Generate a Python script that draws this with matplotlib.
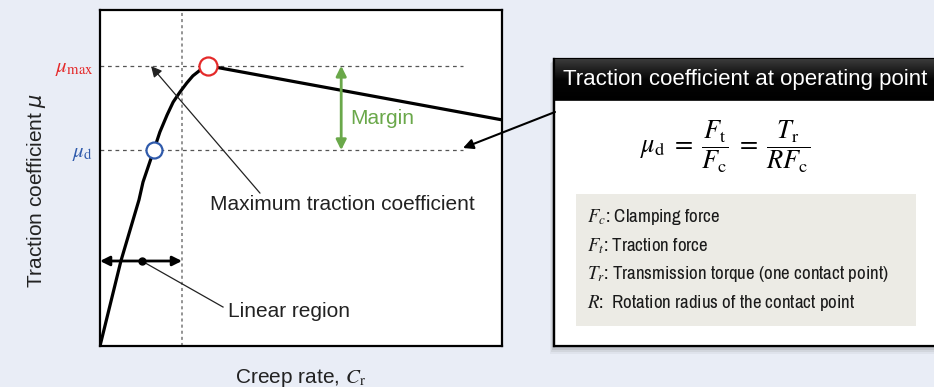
import matplotlib
matplotlib.use('Agg')
import matplotlib.pyplot as plt
from matplotlib import font_manager
import numpy as np
from matplotlib.patches import Rectangle
from matplotlib.colors import LinearSegmentedColormap

plt.rcParams['font.family'] = ['Liberation Sans', 'DejaVu Sans']

# ---- data (normalised creep rate / traction coefficient) ----
creep_rate = [0.0, 0.052, 0.097, 0.107, 0.124, 0.134, 0.149, 0.167, 0.182,
              0.199, 0.216, 0.231, 0.249, 0.269, 1.0]
traction = [0.0, 0.253, 0.435, 0.488, 0.548, 0.583, 0.637, 0.688, 0.726,
            0.756, 0.783, 0.804, 0.821, 0.834, 0.673]
mu_max = 0.834
cr_at_max = 0.269
mu_d = 0.583
cr_at_d = 0.135
linear_limit = 0.204
ytick_values = [mu_d, mu_max]
ytick_labels = [r'$\mu_{\rm d}$', r'$\mu_{\rm max}$']
ytick_colors = ['#2f5aab', '#e42a2a']
legend_lines = [r'$F_c$: Clamping force',
                r'$F_t$: Traction force',
                r'$T_r$: Transmission torque (one contact point)',
                r'$R$:  Rotation radius of the contact point']

W, H = 934, 387
BG = '#e9edf6'
GREEN = '#6aa84a'
TXT = '#222222'
FS = 15

# condensed font for the legend, if one is installed
narrow = None
for f in font_manager.fontManager.ttflist:
    if 'Narrow' in f.name or 'Condensed' in f.name:
        if narrow is None or 'Liberation' in f.name:
            narrow = f.name
legend_family = [narrow, 'Liberation Sans', 'DejaVu Sans'] if narrow else ['Liberation Sans', 'DejaVu Sans']
legend_fs = 13.6 if narrow else 11.3

fig = plt.figure(figsize=(W / 100, H / 100), dpi=100, facecolor=BG)

# ---- main plot axes ----
ax = fig.add_axes([100 / W, (H - 346) / H, 402 / W, 336 / H], zorder=1)
ax.set_facecolor('white')
ax.set_xlim(0, 1)
ax.set_ylim(0, 1)
for s in ax.spines.values():
    s.set_linewidth(1.6)
    s.set_color('black')
ax.set_xticks([])
ax.set_yticks(ytick_values)
ax.set_yticklabels(ytick_labels, fontsize=15)
ax.tick_params(axis='y', length=0, pad=5)
for lab, c in zip(ax.get_yticklabels(), ytick_colors):
    lab.set_color(c)
    lab.set_math_fontfamily('stix')

# guide lines
ax.plot([0, 0.903], [mu_max, mu_max], ls=(0, (3, 3)), color='#555555', lw=0.9, zorder=2)
ax.plot([0, 0.903], [mu_d, mu_d], ls=(0, (3, 3)), color='#555555', lw=0.9, zorder=2)
ax.axvline(linear_limit, ls=(0, (2, 2)), color='#777777', lw=1.1, zorder=2)

# curve
ax.plot(creep_rate, traction, color='black', lw=2.3, solid_joinstyle='round',
        solid_capstyle='butt', zorder=3)
ax.plot([cr_at_max], [mu_max], 'o', ms=13, mfc='white', mec='#e42a2a', mew=1.6, zorder=4)
ax.plot([cr_at_d], [mu_d], 'o', ms=11.5, mfc='white', mec='#2f5aab', mew=1.6, zorder=4)

# maximum traction annotation
ax.annotate('', xy=(0.127, 0.833), xytext=(0.398, 0.455),
            arrowprops=dict(arrowstyle='-|>', lw=0.9, color=TXT,
                            mutation_scale=16, shrinkA=0, shrinkB=0))
ax.text(0.274, 0.42, 'Maximum traction coefficient', fontsize=FS, va='center', ha='left',
        color=TXT)

# linear region
ax.annotate('', xy=(0.0, 0.253), xytext=(linear_limit, 0.253),
            arrowprops=dict(arrowstyle='<|-|>', lw=2, color='black',
                            mutation_scale=14, shrinkA=0, shrinkB=0))
ax.plot([0.104], [0.253], 'o', color='black', ms=5, zorder=5)
ax.plot([0.104, 0.306], [0.253, 0.116], color=TXT, lw=0.9)
ax.text(0.318, 0.104, 'Linear region', fontsize=FS, va='center', ha='left', color=TXT)

# margin
ax.annotate('', xy=(0.6, mu_max), xytext=(0.6, mu_d),
            arrowprops=dict(arrowstyle='<|-|>', lw=2, color=GREEN,
                            mutation_scale=15, shrinkA=0, shrinkB=0))
ax.text(0.622, 0.676, 'Margin', fontsize=FS, va='center', ha='left', color=GREEN)

# axis labels
ax.set_xlabel(r'Creep rate, $C_{\rm r}$', fontsize=FS, color=TXT)
ax.xaxis.label.set_math_fontfamily('stix')
ax.xaxis.set_label_coords(0.5, -0.062)
ax.set_ylabel(r'Traction coefficient $\mu$', fontsize=FS, color=TXT)
ax.yaxis.label.set_verticalalignment('center')
ax.yaxis.set_label_coords(-0.157, 0.462)

# ---- overlay axes for the info box ----
ov = fig.add_axes([0, 0, 1, 1], zorder=3)
ov.patch.set_alpha(0)
ov.axis('off')

# shadow
for i, a in enumerate([0.10, 0.08, 0.06, 0.04]):
    d = i + 1
    ov.add_patch(Rectangle((554 - d, 59 + d), 400, 287 + d, facecolor='#000000',
                           alpha=a, edgecolor='none'))
# body
ov.add_patch(Rectangle((554, 59), 400, 287, facecolor='white', edgecolor='black', lw=1.6))
# header gradient
grad = np.linspace(0, 1, 50).reshape(-1, 1)
cmap = LinearSegmentedColormap.from_list('hdr', ['#3a3a3a', '#050505', '#000000'])
ov.imshow(grad, extent=[554, 960, 100, 59], cmap=cmap, aspect='auto', zorder=2)
ov.plot([554, 960], [100, 100], color='black', lw=1.2, zorder=3)
ov.plot([554, 554], [59, 346], color='black', lw=1.6, zorder=3)
ov.text(563, 80, 'Traction coefficient at operating point', color='white', fontsize=16,
        va='center', ha='left', zorder=4)

# formula
ov.text(725, 147, r'$\mu_{\rm d}\;=\;\dfrac{F_{\rm t}}{F_{\rm c}}\;=\;\dfrac{T_{\rm r}}{RF_{\rm c}}$',
        fontsize=19, ha='center', va='center', math_fontfamily='stix', color='black', zorder=4)

# legend box
ov.add_patch(Rectangle((576, 194), 340, 132, facecolor='#ecebe5', edgecolor='none', zorder=2))
for i, line in enumerate(legend_lines):
    ov.text(587, 217 + i * 28.7, line, fontsize=legend_fs, va='center', ha='left',
            family=legend_family, math_fontfamily='stix', color='#1a1a1a', zorder=4)

# pointer from box to operating point
ov.annotate('', xy=(463, 148), xytext=(555, 112),
            arrowprops=dict(arrowstyle='-|>', lw=1.5, color='black',
                            mutation_scale=15, shrinkA=0, shrinkB=0))

ov.set_xlim(0, W)
ov.set_ylim(H, 0)

fig.savefig('out.png', dpi=100, facecolor=BG)
